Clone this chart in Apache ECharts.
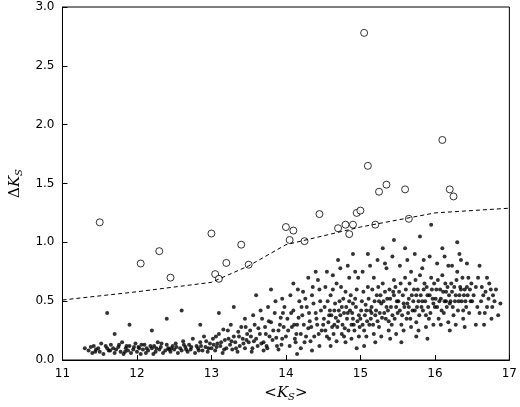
<!DOCTYPE html>
<html>
<head>
<meta charset="utf-8">
<script src="https://cdn.jsdelivr.net/npm/echarts@6/dist/echarts.min.js"></script>
<style>html,body{margin:0;padding:0;background:#fff}#chart{width:520px;height:407px}</style>
</head>
<body>
<div id="chart"></div>
<script>
// field stars: [<Ks>, dKs]
const stars = [
[11.3,.1],[11.35,.08],[11.4,.06],[11.42,.12],[11.45,.09],[11.5,.07],[11.52,.14],[11.55,.05],[11.6,.1],[11.62,.08],[11.65,.13],[11.7,.06],[11.72,.09],[11.75,.11],[11.78,.07],[11.8,.15],[11.82,.05],[11.85,.1],[11.88,.08],[11.9,.12],[11.92,.06],[11.95,.09],[11.98,.14],[11.6,.4],[11.7,.22],[11.9,.3],
[12.0,.07],[12.02,.11],[12.05,.05],[12.08,.09],[12.1,.13],[12.12,.06],[12.15,.08],[12.18,.12],[12.2,.1],[12.22,.05],[12.25,.07],[12.28,.15],[12.3,.09],[12.32,.11],[12.35,.06],[12.38,.08],[12.4,.13],[12.42,.1],[12.45,.07],[12.48,.12],[12.5,.09],[12.52,.14],[12.55,.06],[12.58,.1],[12.6,.08],[12.62,.16],[12.65,.11],[12.68,.07],[12.7,.13],[12.72,.09],[12.75,.18],[12.78,.06],[12.8,.12],[12.82,.1],[12.85,.15],[12.88,.08],[12.9,.2],[12.92,.11],[12.95,.07],[12.98,.14],[12.4,.35],[12.6,.42],[12.85,.3],[12.2,.25],
[13.0,.1],[13.02,.18],[13.05,.08],[13.08,.14],[13.1,.22],[13.12,.12],[13.15,.06],[13.18,.17],[13.2,.1],[13.22,.25],[13.25,.13],[13.28,.09],[13.3,.2],[13.32,.15],[13.35,.07],[13.38,.12],[13.4,.28],[13.42,.18],[13.45,.1],[13.48,.22],[13.1,.4],[13.3,.45],[13.45,.35],
[13.5,.15],[13.52,.25],[13.55,.1],[13.58,.3],[13.6,.18],[13.62,.12],[13.65,.22],[13.68,.35],[13.7,.15],[13.72,.28],[13.75,.1],[13.78,.2],[13.8,.32],[13.82,.17],[13.85,.4],[13.88,.12],[13.9,.25],[13.92,.3],[13.95,.18],[13.98,.45],[13.6,.55],[13.8,.6],[13.95,.52],[13.7,.08],[13.9,.09],
[14.0,.2],[14.02,.35],[14.05,.12],[14.08,.28],[14.1,.42],[14.12,.18],[14.15,.3],[14.18,.5],[14.2,.22],[14.22,.38],[14.25,.15],[14.28,.45],[14.3,.27],[14.32,.33],[14.35,.55],[14.38,.2],[14.4,.4],[14.42,.3],[14.45,.6],[14.48,.25],[14.1,.65],[14.3,.7],[14.4,.75],[14.2,.1],[14.45,.12],[14.15,.05],[14.35,.08],
[14.5,.3],[14.52,.45],[14.55,.2],[14.58,.38],[14.6,.55],[14.62,.28],[14.65,.42],[14.68,.65],[14.7,.33],[14.72,.5],[14.75,.22],[14.78,.4],[14.8,.58],[14.82,.35],[14.85,.7],[14.88,.3],[14.9,.48],[14.92,.25],[14.95,.6],[14.98,.38],[14.55,.75],[14.7,.85],[14.9,.9],[14.6,.12],[14.8,.15],[14.95,.1],[14.65,.3],[14.75,.45],[14.85,.5],[14.9,.35],
[15.0,.35],[15.02,.5],[15.05,.25],[15.08,.42],[15.1,.62],[15.12,.3],[15.15,.45],[15.18,.7],[15.2,.38],[15.22,.55],[15.25,.28],[15.28,.48],[15.3,.65],[15.32,.4],[15.35,.78],[15.38,.33],[15.4,.52],[15.42,.3],[15.45,.68],[15.48,.45],[15.1,.9],[15.3,.95],[15.45,1.02],[15.2,.15],[15.4,.18],[15.05,.12],[15.15,.4],[15.25,.5],[15.35,.45],[15.45,.55],
[15.5,.4],[15.52,.58],[15.55,.3],[15.58,.48],[15.6,.7],[15.62,.35],[15.65,.52],[15.68,.75],[15.7,.42],[15.72,.6],[15.75,.32],[15.78,.5],[15.8,.72],[15.82,.45],[15.85,.85],[15.88,.38],[15.9,.55],[15.92,.35],[15.95,.7],[15.98,.48],[15.6,.95],[15.8,1.05],[15.95,1.15],[15.55,.15],[15.75,.2],[15.9,.18],[15.65,.45],[15.75,.55],[15.85,.6],
[16.0,.45],[16.02,.6],[16.05,.35],[16.08,.52],[16.1,.72],[16.12,.4],[16.15,.58],[16.18,.8],[16.2,.48],[16.22,.65],[16.25,.38],[16.28,.55],[16.3,.75],[16.32,.5],[16.35,.85],[16.38,.42],[16.4,.6],[16.42,.45],[16.45,.7],[16.48,.5],[16.1,.95],[16.3,1.0],[16.2,.25],[16.4,.28],[16.15,.5],[16.35,.6],
[16.5,.5],[16.55,.62],[16.6,.4],[16.65,.55],[16.7,.45],[16.75,.6],[16.8,.5],[16.85,.38],[16.55,.3],[16.7,.7]
];
// extra field stars filling the dense core
const core = [
[11.38,.11],[11.48,.1],[11.58,.12],[11.68,.1],[11.76,.13],[11.86,.12],[11.96,.11],[11.44,.07],[11.64,.08],[11.84,.07],
[12.03,.1],[12.13,.1],[12.23,.12],[12.33,.14],[12.43,.09],[12.53,.11],[12.63,.13],[12.73,.11],[12.83,.08],[12.93,.16],[12.06,.13],[12.26,.1],[12.46,.1],[12.66,.09],[12.86,.12],[12.96,.1],
[13.03,.13],[13.07,.11],[13.13,.15],[13.17,.09],[13.23,.18],[13.27,.16],[13.33,.1],[13.37,.2],[13.43,.14],[13.47,.17],[13.06,.2],[13.16,.26],[13.26,.3],[13.36,.24],[13.46,.28],
[13.53,.2],[13.57,.16],[13.63,.27],[13.67,.14],[13.73,.22],[13.77,.33],[13.83,.25],[13.87,.19],[13.93,.36],[13.97,.28],[13.56,.38],[13.66,.42],[13.76,.45],[13.86,.5],[13.96,.4],[13.54,.07],[13.74,.12],[13.94,.13],
[14.03,.25],[14.07,.4],[14.11,.3],[14.14,.22],[14.17,.36],[14.21,.45],[14.24,.3],[14.27,.2],[14.31,.4],[14.34,.28],[14.37,.48],[14.41,.35],[14.44,.22],[14.47,.42],[14.06,.55],[14.16,.6],[14.26,.52],[14.36,.62],[14.46,.5],[14.13,.15],[14.33,.16],[14.23,.58],[14.43,.68],
[14.51,.35],[14.53,.25],[14.56,.5],[14.57,.32],[14.59,.42],[14.61,.38],[14.63,.6],[14.64,.22],[14.66,.48],[14.67,.36],[14.69,.28],[14.71,.42],[14.73,.38],[14.74,.62],[14.76,.3],[14.77,.52],[14.79,.27],[14.81,.45],[14.83,.4],[14.84,.25],[14.86,.42],[14.87,.55],[14.89,.4],[14.91,.3],[14.93,.52],[14.94,.45],[14.96,.33],[14.97,.7],[14.99,.28],[14.53,.62],[14.63,.72],[14.73,.78],[14.83,.8],[14.93,.75],[14.58,.18],[14.68,.16],[14.78,.2],[14.88,.18],[14.98,.2],
[15.01,.42],[15.03,.3],[15.04,.58],[15.06,.38],[15.07,.47],[15.09,.33],[15.11,.52],[15.13,.42],[15.14,.35],[15.16,.6],[15.17,.3],[15.19,.5],[15.21,.42],[15.23,.33],[15.24,.62],[15.26,.4],[15.27,.55],[15.29,.36],[15.31,.5],[15.33,.58],[15.34,.35],[15.36,.52],[15.37,.42],[15.39,.6],[15.41,.45],[15.43,.38],[15.44,.58],[15.46,.35],[15.47,.62],[15.49,.5],[15.03,.75],[15.13,.8],[15.23,.85],[15.33,.82],[15.43,.88],[15.08,.2],[15.18,.22],[15.28,.2],[15.38,.25],[15.48,.22],
[15.51,.5],[15.53,.42],[15.54,.65],[15.56,.38],[15.57,.55],[15.59,.45],[15.61,.6],[15.63,.48],[15.64,.4],[15.66,.65],[15.67,.35],[15.69,.55],[15.71,.5],[15.73,.42],[15.74,.68],[15.76,.45],[15.77,.6],[15.79,.38],[15.81,.55],[15.83,.5],[15.84,.42],[15.86,.65],[15.87,.5],[15.89,.62],[15.91,.45],[15.93,.55],[15.94,.4],[15.96,.6],[15.97,.52],[15.99,.65],[15.53,.8],[15.63,.85],[15.73,.9],[15.83,.78],[15.93,.88],[15.58,.25],[15.68,.28],[15.78,.25],[15.88,.28],[15.98,.3],
[16.01,.52],[16.03,.45],[16.04,.68],[16.06,.5],[16.07,.6],[16.09,.42],[16.11,.58],[16.13,.5],[16.14,.65],[16.16,.45],[16.17,.62],[16.19,.55],[16.21,.5],[16.23,.58],[16.24,.45],[16.26,.62],[16.27,.5],[16.29,.68],[16.31,.42],[16.33,.55],[16.34,.62],[16.36,.5],[16.37,.7],[16.39,.55],[16.41,.5],[16.43,.62],[16.44,.55],[16.46,.4],[16.47,.6],[16.49,.65],[16.03,.82],[16.13,.88],[16.23,.8],[16.33,.9],[16.43,.82],[16.08,.3],[16.18,.32],[16.28,.3],[16.38,.35],
[16.52,.55],[16.57,.45],[16.58,.7],[16.62,.5],[16.63,.62],[16.67,.4],[16.68,.58],[16.72,.52],[16.73,.65],[16.77,.45],[16.78,.55],[16.82,.6],[16.6,.8],[16.66,.3],[16.76,.35],[16.88,.48]
];
// variable candidates (open circles)
const variables = [
[11.5,1.17],[12.05,.82],[12.3,.925],[12.45,.70],[13.0,1.075],[13.05,.73],[13.1,.69],[13.2,.825],[13.4,.98],[13.5,.81],
[14.0,1.13],[14.05,1.02],[14.1,1.10],[14.25,1.01],[14.45,1.24],[14.7,1.12],[14.8,1.15],[14.85,1.07],[14.9,1.15],[14.95,1.25],
[15.0,1.27],[15.05,2.78],[15.1,1.65],[15.2,1.15],[15.25,1.43],[15.35,1.49],[15.6,1.45],[15.65,1.20],[16.1,1.87],[16.2,1.45],[16.25,1.39]
];
// threshold (dashed)
const threshold = [[11,.51],[12,.58],[13,.66],[13.5,.8],[14,.98],[15,1.13],[16,1.25],[17,1.29]];

const chart = echarts.init(document.getElementById('chart'));
const axisCommon = {
    axisLine: { lineStyle: { color: '#000', width: 1 } },
    axisTick: { inside: true, length: 5, lineStyle: { color: '#000' } },
    axisLabel: { color: '#000', fontSize: 12, fontFamily: 'DejaVu Sans' },
    splitLine: { show: false }
};
const dot = { type: 'scatter', symbolSize: 4, itemStyle: { color: '#000', borderWidth: 0 }, silent: true };
chart.setOption({
    animation: false,
    grid: { left: 57, right: 8, top: 7, bottom: 40, show: true, borderColor: '#000', borderWidth: 1 },
    xAxis: Object.assign({}, axisCommon, {
        type: 'value', min: 11, max: 17, interval: 1,
        name: '<{i|K}{s|S}>', nameLocation: 'middle', nameGap: 24,
        nameTextStyle: { fontSize: 15, fontFamily: 'DejaVu Serif', color: '#000',
            rich: { i: { fontStyle: 'italic', fontSize: 15, fontFamily: 'DejaVu Serif' }, s: { fontStyle: 'italic', fontSize: 10, verticalAlign: 'bottom', padding: [8, 0, 0, 0], fontFamily: 'DejaVu Serif' } } }
    }),
    yAxis: Object.assign({}, axisCommon, {
        type: 'value', min: 0, max: 3, interval: 0.5,
        axisLabel: Object.assign({}, axisCommon.axisLabel, { formatter: v => v.toFixed(1) }),
        name: 'Δ{i|K}{s|S}', nameLocation: 'middle', nameGap: 34,
        nameTextStyle: { fontSize: 15, fontFamily: 'DejaVu Serif', color: '#000',
            rich: { i: { fontStyle: 'italic', fontSize: 15, fontFamily: 'DejaVu Serif' }, s: { fontStyle: 'italic', fontSize: 10, padding: [8, 0, 0, 0], fontFamily: 'DejaVu Serif' } } }
    }),
    series: [
        Object.assign({ data: stars }, dot),
        Object.assign({ data: core }, dot),
        { type: 'line', data: threshold, showSymbol: false, lineStyle: { color: '#000', width: 1, type: [4, 3] } },
        { type: 'scatter', data: variables, symbolSize: 7, itemStyle: { color: '#fff', borderColor: '#000', borderWidth: 1 } }
    ]
});
</script>
</body>
</html>
